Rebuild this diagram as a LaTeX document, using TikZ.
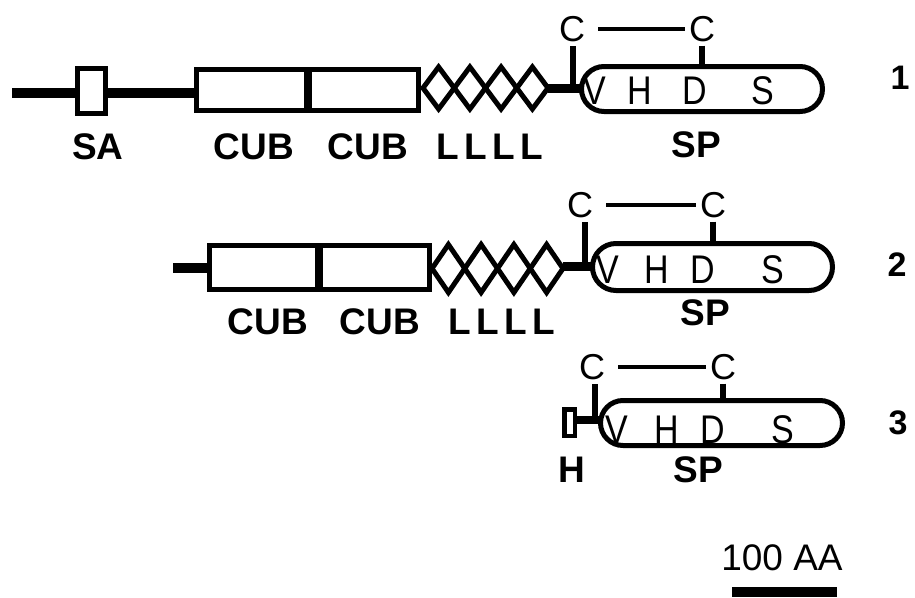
\documentclass[tikz,border=0pt]{standalone}
\usepackage{fontspec}
\setmainfont{Liberation Sans}
\newfontfamily\narrowsans[FakeStretch=0.85]{Liberation Sans}
\usetikzlibrary{shapes.geometric}
\tikzset{
  dom/.style={draw, line width=5pt, inner sep=0pt, outer sep=0pt, fill=white},
  boxdom/.style={dom, rectangle},
  ldom/.style={dom, diamond, line join=miter},
  spdom/.style={dom, rectangle},
  link/.style={line width=10pt},
  stalk/.style={line width=6pt},
  bridge/.style={line width=4pt},
  divider/.style={line width=7.5pt},
  lab/.style={font=\bfseries\fontsize{37}{40}\selectfont, inner sep=0pt},
  res/.style={font=\narrowsans\fontsize{40}{44}\selectfont, inner sep=0pt},
  cys/.style={font=\fontsize{36}{40}\selectfont, inner sep=0pt, outer sep=4pt},
  num/.style={font=\bfseries\fontsize{34}{38}\selectfont, inner sep=0pt},
  scaletxt/.style={font=\fontsize{37}{40}\selectfont, inner sep=0pt},
}
\newcommand{\LLLL}{L\hspace{5.5pt}L\hspace{5.5pt}L\hspace{5.5pt}L}
\begin{document}
\begin{tikzpicture}[x=1pt,y=-1pt]
\useasboundingbox (0,0) rectangle (915,597);

% ---------------- Row 1 ----------------
\coordinate (n1) at (12,93);
\node[boxdom, minimum width=28pt, minimum height=45pt] (sa) at (91.5,91) {};
\node[boxdom, minimum width=111.5pt, minimum height=41pt] (cub1a) at (252.1,90) {};
\node[boxdom, minimum width=110.5pt, minimum height=41pt] (cub1b) at (363.4,90) {};
\node[ldom, minimum width=31.25pt, minimum height=42pt] (d11) at (438.6,88) {};
\node[ldom, minimum width=31.25pt, minimum height=42pt] (d12) at (469.9,88) {};
\node[ldom, minimum width=31.25pt, minimum height=42pt] (d13) at (501.1,88) {};
\node[ldom, minimum width=31.25pt, minimum height=42pt] (d14) at (532.4,88) {};
\coordinate (v1) at (573,88);
\node[spdom, rounded corners=22.5pt, minimum width=241pt, minimum height=45pt] (sp1) at (702,89) {};
\node[cys] (c11) at (572,29) {C};
\node[cys] (c12) at (702,29) {C};

\draw[link] (n1) -- (sa.west |- n1);
\draw[link] (sa.east |- n1) -- (cub1a.west |- n1);
\draw[divider] (cub1a.north east) -- (cub1a.south east);
\draw[link, line width=9pt] (d14.east) -- (d14.east -| sp1.west);
\draw[stalk] (v1) -- (c11.south -| v1);
\draw[bridge] ([xshift=9pt]c11.east) -- (c12.west);
\draw[stalk] (c12.south) -- (c12.south |- sp1.north);

\node[res] (v1r) at (595,91) {V};
\node[res] (h1r) at (640,91) {H};
\node[res] (d1r) at (695,91) {D};
\node[res] (s1r) at (763,91) {S};

\node[lab] (lsa) at (98,147) {SA};
\node[lab] (lcub11) at (254,147) {CUB};
\node[lab] (lcub12) at (368,147) {CUB};
\node[lab] (ll1) at (490,147) {\LLLL};
\node[lab] (lsp1) at (696,145) {SP};
\node[num] (num1) at (900,78) {1};

% ---------------- Row 2 ----------------
\coordinate (n2) at (173,268);
\node[boxdom, minimum width=109.5pt, minimum height=44pt] (cub2a) at (264.1,267.5) {};
\node[boxdom, minimum width=110.5pt, minimum height=44pt] (cub2b) at (374.4,267.5) {};
\node[ldom, minimum width=32.75pt, minimum height=48pt] (d21) at (448.4,268.5) {};
\node[ldom, minimum width=32.75pt, minimum height=48pt] (d22) at (481.1,268.5) {};
\node[ldom, minimum width=32.75pt, minimum height=48pt] (d23) at (513.9,268.5) {};
\node[ldom, minimum width=32.75pt, minimum height=48pt] (d24) at (546.6,268.5) {};
\coordinate (v2) at (585,266);
\node[spdom, rounded corners=23.5pt, minimum width=240pt, minimum height=47pt] (sp2) at (712.5,267) {};
\node[cys] (c21) at (580,205) {C};
\node[cys] (c22) at (713,205) {C};

\draw[link] (n2) -- (cub2a.west |- n2);
\draw[divider, line width=8pt] (cub2a.north east) -- (cub2a.south east);
\draw[link, line width=9pt] (d24.east |- v2) -- (v2 -| sp2.west);
\draw[stalk] (v2) -- (c21.south -| v2);
\draw[bridge] ([xshift=9pt]c21.east) -- (c22.west);
\draw[stalk] (c22.south) -- (c22.south |- sp2.north);

\node[res] (v2r) at (608,270) {V};
\node[res] (h2r) at (657,270) {H};
\node[res] (d2r) at (703,270) {D};
\node[res] (s2r) at (773,270) {S};

\node[lab] (lcub21) at (268,322) {CUB};
\node[lab] (lcub22) at (380,322) {CUB};
\node[lab] (ll2) at (502,322) {\LLLL};
\node[lab] (lsp2) at (705,313) {SP};
\node[num] (num2) at (897,265) {2};

% ---------------- Row 3 ----------------
\node[boxdom, line width=4.5pt, minimum width=10.5pt, minimum height=26.5pt] (hb) at (569.5,422.5) {};
\coordinate (v3) at (595,420);
\node[spdom, rounded corners=22.5pt, minimum width=242pt, minimum height=45pt] (sp3) at (721.5,423) {};
\node[cys] (c31) at (592,367) {C};
\node[cys] (c32) at (723,367) {C};

\draw[link, line width=8pt] (hb.east |- v3) -- (v3 -| sp3.west);
\draw[stalk] (v3) -- (c31.south -| v3);
\draw[bridge] ([xshift=9pt]c31.east) -- (c32.west);
\draw[stalk] (c32.south) -- (c32.south |- sp3.north);

\node[res] (v3r) at (617,430) {V};
\node[res] (h3r) at (667,430) {H};
\node[res] (d3r) at (713,430) {D};
\node[res] (s3r) at (783,430) {S};

\node[lab] (lh3) at (572,470) {H};
\node[lab] (lsp3) at (698,470) {SP};
\node[num] (num3) at (898,423) {3};

% ---------------- Scale bar ----------------
\node[scaletxt] (scl) at (782,558) {100 AA};
\coordinate (bar0) at (732,592);
\coordinate (bar1) at (837,592);
\draw[link] (bar0) -- (bar1);
\end{tikzpicture}
\end{document}
